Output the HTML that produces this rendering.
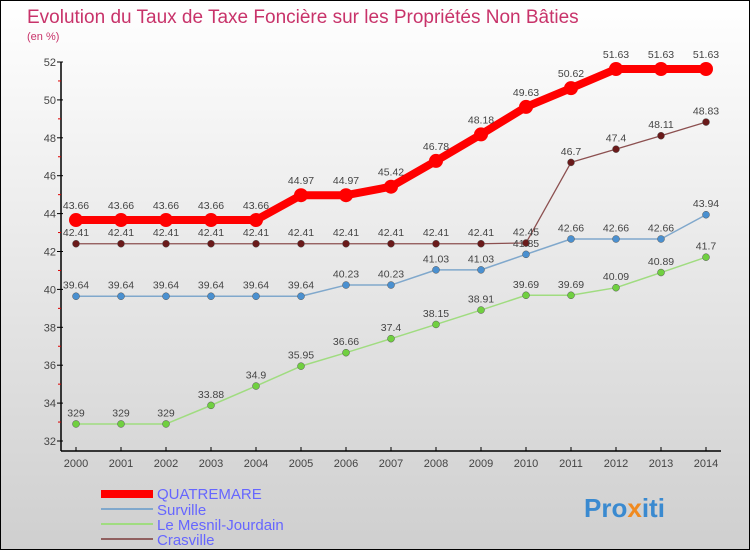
<!DOCTYPE html>
<html><head><meta charset="utf-8">
<style>
html,body{margin:0;padding:0}
body{width:750px;height:550px;overflow:hidden}
#wrap{position:relative;width:748px;height:548px;border:1px solid #000;background:linear-gradient(#ffffff,#cfcfcf);font-family:"Liberation Sans",sans-serif}
svg text{font-family:"Liberation Sans",sans-serif}
</style></head>
<body>
<div id="wrap">
<svg id="chart" width="748" height="548" xmlns="http://www.w3.org/2000/svg">
<text x="26" y="22" font-size="19" fill="#c8336a">Evolution du Taux de Taxe Foncière sur les Propriétés Non Bâties</text>
<text x="26" y="39" font-size="11" fill="#c8336a">(en %)</text>
<g id="axes"></g>
<g id="series"></g>
<g>
<rect x="100" y="489" width="52" height="8" fill="#ff0000"/>
<text x="156" y="498" font-size="15" fill="#6666ff">QUATREMARE</text>
<rect x="100" y="507" width="52" height="2" fill="#80a8cc"/>
<text x="156" y="514" font-size="15" fill="#6666ff">Surville</text>
<rect x="100" y="522" width="52" height="2" fill="#a0dc80"/>
<text x="156" y="529" font-size="15" fill="#6666ff">Le Mesnil-Jourdain</text>
<rect x="100" y="537" width="52" height="2" fill="#906060"/>
<text x="156" y="544" font-size="15" fill="#6666ff">Crasville</text>
</g>
<g>
<text x="583" y="516" font-size="26" font-weight="bold" fill="#3a8ad0">Pro<tspan fill="#f08a20">x</tspan>iti</text>
</g>
</svg>
</div>
<script>
const years = [2000,2001,2002,2003,2004,2005,2006,2007,2008,2009,2010,2011,2012,2013,2014];
const quatremare = [43.66,43.66,43.66,43.66,43.66,44.97,44.97,45.42,46.78,48.18,49.63,50.62,51.63,51.63,51.63];
const surville = [39.64,39.64,39.64,39.64,39.64,39.64,40.23,40.23,41.03,41.03,41.85,42.66,42.66,42.66,43.94];
const mesnil = [32.9,32.9,32.9,33.88,34.9,35.95,36.66,37.4,38.15,38.91,39.69,39.69,40.09,40.89,41.7];
const crasville = [42.41,42.41,42.41,42.41,42.41,42.41,42.41,42.41,42.41,42.41,42.45,46.7,47.4,48.11,48.83];
const yTicks = [32,34,36,38,40,42,44,46,48,50,52];
const quatremareLabels = ["43.66","43.66","43.66","43.66","43.66","44.97","44.97","45.42","46.78","48.18","49.63","50.62","51.63","51.63","51.63"];
const survilleLabels = ["39.64","39.64","39.64","39.64","39.64","39.64","40.23","40.23","41.03","41.03","41.85","42.66","42.66","42.66","43.94"];
const mesnilLabels = ["329","329","329","33.88","34.9","35.95","36.66","37.4","38.15","38.91","39.69","39.69","40.09","40.89","41.7"];
const crasvilleLabels = ["42.41","42.41","42.41","42.41","42.41","42.41","42.41","42.41","42.41","42.41","42.45","46.7","47.4","48.11","48.83"];

const NS="http://www.w3.org/2000/svg";
function x(i){return 75+i*45;}
function y(v){return 440-(v-32)*(379/20);}
function mk(tag,attrs,parent){const e=document.createElementNS(NS,tag);for(const k in attrs)e.setAttribute(k,attrs[k]);parent.appendChild(e);return e;}
const axes=document.getElementById('axes'), ser=document.getElementById('series');
let ya=mk('line',{x1:60,y1:y(52),x2:60,y2:450,stroke:'#000','stroke-width':1.5},axes);


let xa=mk('line',{x1:60,y1:450,x2:720,y2:450,stroke:'#000','stroke-width':1.5},axes);


yTicks.forEach(v=>{
  mk('line',{x1:56,y1:y(v),x2:62,y2:y(v),stroke:'#000'},axes);
  if(v<52) mk('line',{x1:57,y1:y(v+1),x2:60,y2:y(v+1),stroke:'#d00'},axes);
  const t=mk('text',{x:55,y:y(v)+4,'font-size':11,'text-anchor':'end',fill:'#444'},axes);
  t.textContent=v;
  
  
});
years.forEach((yr,i)=>{
  mk('line',{x1:x(i),y1:446,x2:x(i),y2:450,stroke:'#000'},axes);
  const t=mk('text',{x:x(i),y:466,'font-size':11,'text-anchor':'middle',fill:'#444'},axes);
  t.textContent=yr;
  
  
});
function drawSeries(vals,labels,color,dot,w,r,name){
  const g=mk('g',{},ser);
  
  
  const pts=vals.map((v,i)=>x(i)+','+y(v)).join(' ');
  const l=mk('polyline',{points:pts,fill:'none',stroke:color,'stroke-width':w,'stroke-linejoin':'round'},g);
  
  
  vals.forEach((v,i)=>{
    const c=mk('circle',{cx:x(i),cy:y(v),r:r,fill:dot,stroke:dot==='#ff0000'?'none':'#555','stroke-width':0.5},g);
    
    
    const t=mk('text',{x:x(i),y:y(v)-(r+4),'font-size':10.5,'text-anchor':'middle',fill:'#444'},g);
    t.textContent=labels[i];
    
    
  });
}
drawSeries(crasville,crasvilleLabels,'#8c5050','#6a1a1a',1.3,3.5,'crasville');
drawSeries(mesnil,mesnilLabels,'#a0dc80','#70d040',1.5,3.5,'le-mesnil-jourdain');
drawSeries(surville,survilleLabels,'#80a8cc','#4a90d0',1.5,3.5,'surville');
drawSeries(quatremare,quatremareLabels,'#ff0000','#ff0000',8,7,'quatremare');
</script>
</body></html>
